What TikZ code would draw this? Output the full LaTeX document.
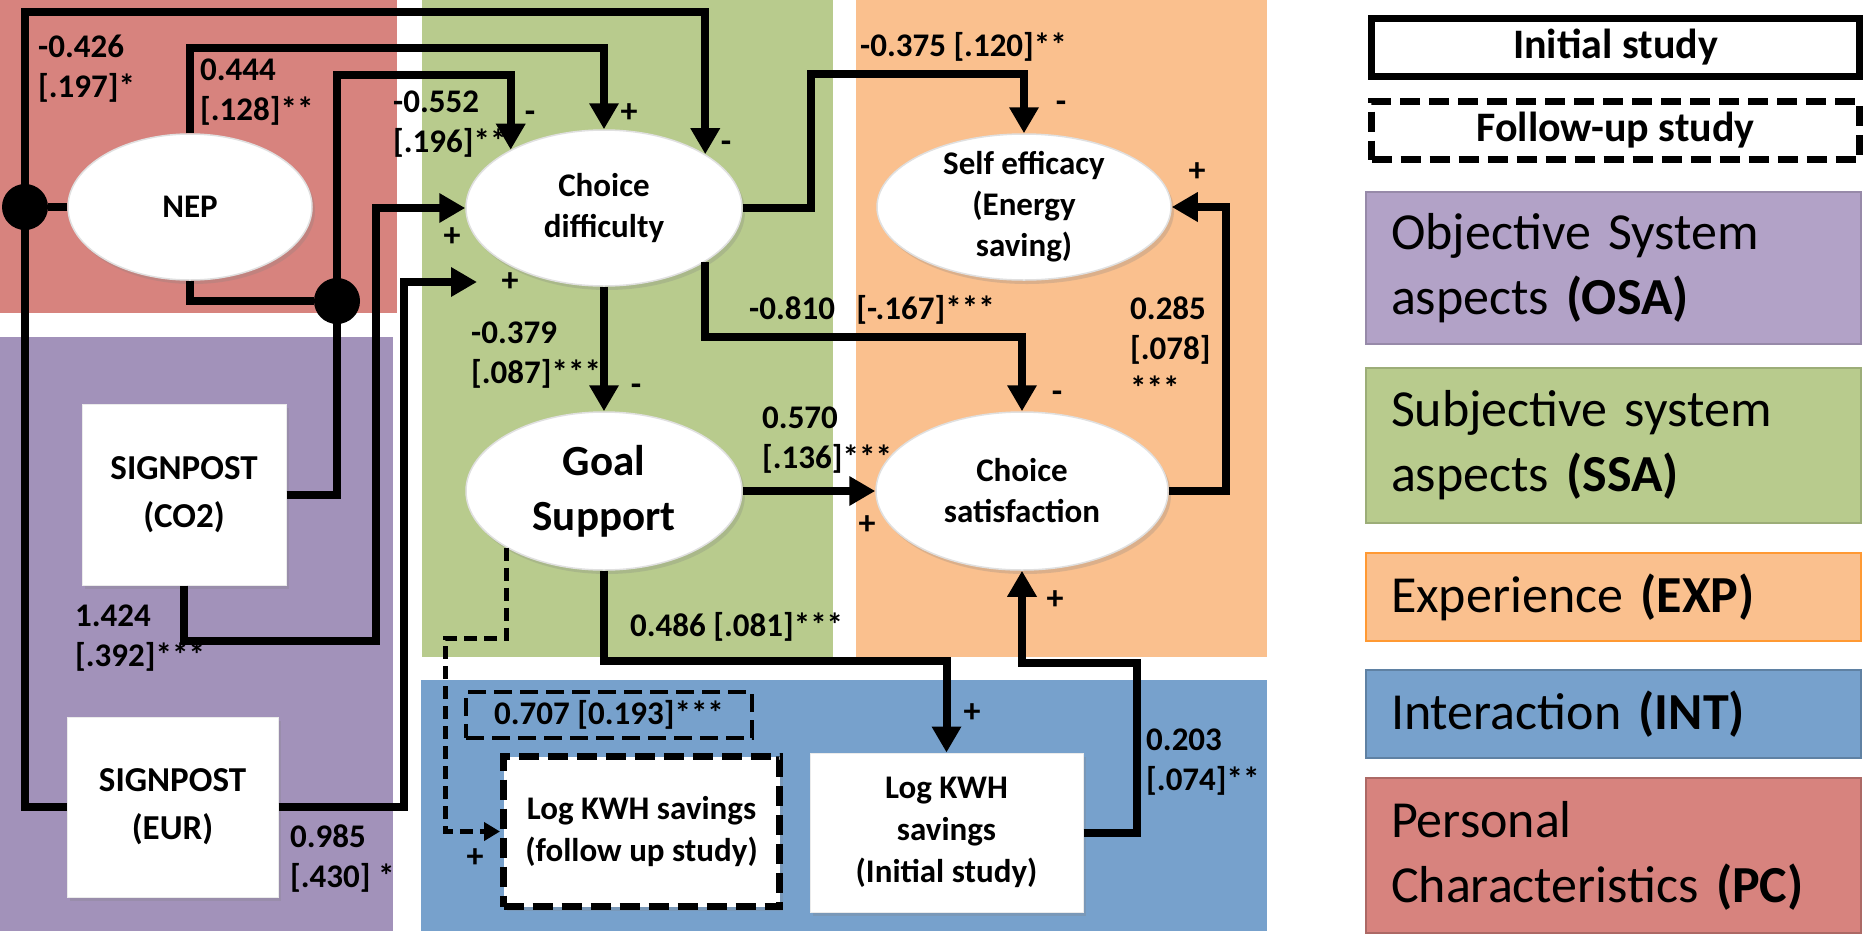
\documentclass[tikz,border=0pt]{standalone}
\usepackage{fontspec}
\setmainfont{Carlito}
\usepackage{tikz}
\usetikzlibrary{shapes,positioning,arrows.meta,shadows}
\usetikzlibrary{calc}
\definecolor{rougePC}{RGB}{215,131,126}
\definecolor{violetOSA}{RGB}{162,146,186}
\definecolor{violetleg}{RGB}{178,162,199}
\definecolor{vertSSA}{RGB}{184,203,141}
\definecolor{orangeEXP}{RGB}{250,192,142}
\definecolor{bleuINT}{RGB}{119,161,204}
\tikzset{
	fleche/.style={line width=8pt,-{Triangle[width=28pt,length=26pt]}},
	trait/.style={line width=8pt},
	tirets/.style={line width=5pt,dash pattern=on 13pt off 7pt,-{Triangle[width=18pt,length=16pt]}},
	ombre/.style={drop shadow={opacity=0.25,shadow xshift=3pt,shadow yshift=-4pt}},
	latent/.style={ellipse,fill=white,draw=black!12,line width=1.5pt,inner sep=0pt,align=center,ombre,font=\fontsize{33}{41}\selectfont\bfseries},
	mesure/.style={rectangle,fill=white,draw=black!8,line width=1pt,inner sep=0pt,align=center,ombre,font=\fontsize{33}{42}\selectfont\bfseries},
	jonction/.style={circle,fill=black,minimum size=46pt,inner sep=0pt},
	coef/.style={inner sep=0pt,align=left,anchor=west,font=\fontsize{33}{40}\selectfont\bfseries},
	signe/.style={inner sep=0pt,font=\fontsize{34}{40}\selectfont\bfseries},
	boite/.style={rectangle,draw=black,fill=white,inner sep=0pt,font=\fontsize{42}{50}\selectfont\bfseries},
	legende/.style={rectangle,line width=1.5pt,minimum width=495pt,text width=445pt,inner xsep=25pt,inner ysep=0pt,align=left,font=\fontsize{52}{65}\selectfont}
}

\begin{document}
\begin{tikzpicture}[x=1pt,y=-1pt]
	\useasboundingbox (0,0) rectangle (1866,935);
	
	%Zones
	\fill[rougePC] (0,0) rectangle (397,313);
	\fill[violetOSA] (0,337) rectangle (393,931);
	\fill[vertSSA] (422,0) rectangle (833,657);
	\fill[orangeEXP] (856,0) rectangle (1267,657);
	\fill[bleuINT] (421,680) rectangle (1267,931);
	
	%Variables latentes
	\node[latent,minimum width=244pt,minimum height=146pt] (NEP) at (190,207) {NEP};
	\node[latent,minimum width=276pt,minimum height=156pt] (CD) at (604,208) {Choice\\difficulty};
	\node[latent,minimum width=294pt,minimum height=146pt,inner ysep=-12pt] (SE) at (1024,207) {Self efficacy\\(Energy\\saving)};
	\node[latent,minimum width=276pt,minimum height=158pt,font=\fontsize{43}{55}\selectfont\bfseries] (GS) at (604,491) {Goal\\Support};
	\node[latent,minimum width=292pt,minimum height=158pt] (CS) at (1022,491) {Choice\\satisfaction};
	
	%Mesures
	\node[mesure,minimum width=204pt,minimum height=181pt,font=\fontsize{35}{48}\selectfont\bfseries] (CO) at (184,494.5) {SIGNPOST\\(CO2)};
	\node[mesure,minimum width=211pt,minimum height=180pt,font=\fontsize{35}{48}\selectfont\bfseries] (EU) at (172.5,807) {SIGNPOST\\(EUR)};
	\node[mesure,draw=black,line width=7pt,dash pattern=on 20pt off 9pt,minimum width=276pt,minimum height=150pt] (LF) at (641.5,831.5) {Log KWH savings\\(follow up study)};
	\node[mesure,minimum width=273pt,minimum height=159pt] (LI) at (946.5,832.5) {Log KWH\\savings\\(Initial study)};
	
	%Jonctions
	\node[jonction] (J1) at (25,207) {};
	\node[jonction] (J2) at (337,301) {};
	\coordinate (m2) at (477,282);
	
	%Fleches
	\draw[fleche] (EU.west) -| (J1.center) -- ++(0,-195) -| (CD.28.7);
	\draw[trait] (NEP.west) -- (J1);
	\draw[fleche] (NEP.north) -- ++(0,-85) -| (CD.north);
	\draw[trait] (NEP.south) |- (J2);
	\draw[fleche] (CO.east) -| (J2.center) -- ++(0,-226) -| (CD.148.7);
	\draw[fleche] (CO.south) -- ++(0,55) -| ($(CD.west)+(-89,0)$) -- (CD.west);
	\draw[fleche] (EU.east) -| ($(m2)+(-73,0)$) -- (m2);
	\draw[fleche] (CD.south) -- (GS.north);
	\draw[fleche] (CD.-28.7) -- ++(0,75) -| (CS.north);
	\draw[fleche] (CD.east) -- ++(68,0) |- ($(SE.north)+(0,-59)$) -- (SE.north);
	\draw[fleche] (GS.east) -- (CS.west);
	\draw[fleche] (GS.south) -- ++(0,90) -| (LI.north);
	\draw[tirets] (GS.210.1) -- ++(0,91) -| ($(LF.west)+(-55,0)$) -- (LF.west);
	\draw[fleche] (LI.east) -- ++(53,0) |- ($(CS.south)+(0,92)$) -- (CS.south);
	\draw[fleche] (CS.east) -- ++(57,0) |- (SE.east);
	
	%Coefficients
	\node[coef] (c1) at (38,69) {-0.426\\{[.197]*}};
	\node[coef] (c2) at (200,92) {0.444\\{[.128]**}};
	\node[coef] (c3) at (393,124) {-0.552\\{[.196]**}};
	\node[coef] (c4) at (75,638) {1.424\\{[.392]***}};
	\node[coef] (c5) at (290,859) {0.985\\{[.430] *}};
	\node[coef] (c6) at (471,355) {-0.379\\{[.087]***}};
	\node[coef] (c7) at (749,310) {-0.810\hspace{14pt} [-.167]***};
	\node[coef] (c8) at (860,47) {-0.375 [.120]**};
	\node[coef] (c9) at (762,440) {0.570\\{[.136]***}};
	\node[coef] (c10) at (1130,348) {0.285\\{[.078]}\\***};
	\node[coef] (c11) at (630,627) {0.486 [.081]***};
	\node[coef,anchor=center,draw=black,line width=4.5pt,dash pattern=on 18pt off 8pt,minimum width=286pt,minimum height=46pt] (c12) at (609,715) {0.707 [0.193]***};
	\node[coef] (c13) at (1146,762) {0.203\\{[.074]**}};
	
	%Signes
	\foreach \x/\y/\t [count=\i] in {530/117/-,629/113/+,726/147/-,452/237/+,510/282/+,636/390/-,1061/107/-,1197/172/+,1057/397/-,867/525/+,1055/600/+,972/713/+,475/858/+}{
		\node[signe] (s\i) at (\x,\y) {\t};
	}
	
	%Legende
	\node[boite,line width=7pt,minimum width=488pt,minimum height=58pt] (Li) at (1615.5,47.5) {Initial study};
	\node[boite,line width=7pt,dash pattern=on 20pt off 9pt,minimum width=488pt,minimum height=58pt] (Lf) at (1615.5,130.5) {Follow-up study};
	\node[legende,fill=violetleg,draw=violetleg!85!black,minimum height=152pt] (lOSA) at (1613.5,268) {Objective System\\aspects \textbf{(OSA)}};
	\node[legende,fill=vertSSA,draw=vertSSA!85!black,minimum height=155pt] (lSSA) at (1613.5,445.5) {Subjective system\\aspects \textbf{(SSA)}};
	\node[legende,fill=orangeEXP,draw=orange!80,minimum height=88pt] (lEXP) at (1613.5,597) {Experience \textbf{(EXP)}};
	\node[legende,fill=bleuINT,draw=bleuINT!80!black,minimum height=88pt] (lINT) at (1613.5,714) {Interaction \textbf{(INT)}};
	\node[legende,fill=rougePC,draw=rougePC!80!black,minimum height=155pt] (lPC) at (1613.5,855.5) {Personal\\Characteristics \textbf{(PC)}};
	
\end{tikzpicture}
\end{document}
